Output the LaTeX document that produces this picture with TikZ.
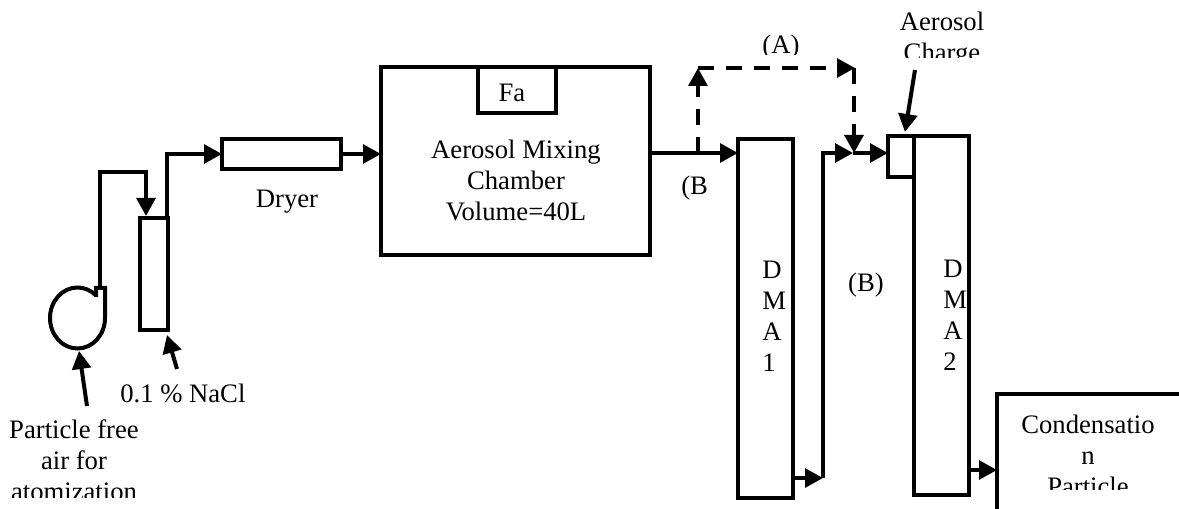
\documentclass[tikz,border=0pt]{standalone}
\usepackage{fontspec}
\setmainfont{Liberation Serif}
\usetikzlibrary{arrows.meta}
\tikzset{
  ln/.style={line width=3pt,line join=miter},
  flow/.style={ln,-{Triangle[length=13.5pt,width=14pt]}},
  dflow/.style={flow,dash pattern=on 12pt off 9pt},
  box/.style={ln,draw,fill=white,inner sep=0pt,outer sep=0pt,anchor=north west},
  txt/.style={inner sep=0pt,font=\fontsize{20}{23.25}\selectfont,align=center},
  txtl/.style={inner sep=0pt,font=\fontsize{20}{23.25}\selectfont,align=left,anchor=north west},
}
\newcommand{\cliptext}[6]{\begin{scope}\clip (#1,#2) rectangle (#3,#4);\node[txt,#5] #6;\end{scope}}
\begin{document}
\begin{tikzpicture}[x=0.75pt,y=-0.75pt]
\useasboundingbox (0,0) rectangle (1179,509);
% boxes
\node[box,minimum width=21pt,minimum height=84pt] (wash) at (140,218) {};
\node[box,minimum width=89.25pt,minimum height=22.5pt] (dryer) at (222,139) {};
\node[box,minimum width=201.75pt,minimum height=141pt] (mix) at (381,67) {};
\node[box,minimum width=58.5pt,minimum height=34.5pt] (fa) at (478,67) {};
\node[box,minimum width=41.25pt,minimum height=269.25pt] (dma1) at (738,139) {};
\node[box,minimum width=41.25pt,minimum height=269.25pt] (dma2) at (914,136) {};
\node[box,minimum width=19.5pt,minimum height=30.75pt] (chg) at (888,136) {};
% pump
\coordinate (pumpA) at (105,288);
\coordinate (pumpB) at (96,288);
\coordinate (pumpC) at (96,297);
\draw[ln] (pumpC) -- (pumpB) -- (pumpA) -- (105,318) arc[start angle=0,end angle=312,x radius=27.5,y radius=30.5];
\coordinate (pumpOut) at (100,288);
\coordinate (pumpIn) at (79,351);
% connectors
\coordinate (airTail) at (87,406);
\coordinate (naclTail) at (177,369);
\coordinate (naclHead) at (167,335);
\coordinate (j1) at (853,153);
\coordinate (topL) at (698,68);
\coordinate (topR) at (855,68);
\coordinate (tapA) at (698,153);
\coordinate (tapB) at (854,68);
\coordinate (chgTail) at (915,70);
\coordinate (chgHead) at (905,132);
\coordinate (d1out) at (793,478);
\coordinate (d1end) at (823,478);
\coordinate (d2out) at (969,470);
\coordinate (cpIn) at (997,470);
\coordinate (mixOut) at (650,153);
\coordinate (d1in) at (738,153);
\draw[flow] (airTail) -- (pumpIn);
\draw[flow] (naclTail) -- (naclHead);
\draw[flow] (pumpOut) |- (146,172) -- (146,216);
\draw[flow] (167,218) |- (dryer.west);
\draw[flow] (dryer.east) -- (mix.west |- dryer.east);
\draw[flow] (mixOut) -- (d1in);
\draw[flow] (d1out) -- (d1end);
\draw[flow] (d1end) |- (j1);
\draw[flow] (j1) -- (chg.west |- j1);
\draw[flow] (d2out) -- (cpIn);
\draw[dflow] (tapA) -- (topL);
\draw[dflow] (topL) -- (topR);
\draw[dflow] (tapB) -- (j1 -| tapB);
\draw[flow] (chgTail) -- (chgHead);
% condensation box
\coordinate (cpA) at (997,509);
\coordinate (cpB) at (997,394);
\coordinate (cpC) at (1179,394);
\draw[ln] (cpA) -- (cpB) -- (cpC);
% texts
\node[txt,anchor=base] (tdry) at (287,208) {Dryer};
\node[txt,anchor=base] (tfa) at (512,102) {Fa};
\node[txt,anchor=north] (tmix) at (516,140) {Aerosol Mixing\\Chamber\\Volume=40L};
\node[txt,anchor=base west] (tnacl) at (120,403) {0.1 \% NaCl};
\node[txt,anchor=base west] (tb1) at (681,195) {(B};
\node[txt,anchor=base] (tb2) at (866,292) {(B)};
\node[txtl] (tdma1) at (762,261) {D\\M\\A\\1};
\node[txtl] (tdma2) at (943,260) {D\\M\\A\\2};
\cliptext{0}{415}{160}{498}{anchor=north}{(tair) at (74,419) {Particle free\\air for\\atomization}}
\cliptext{730}{30}{830}{55}{anchor=base}{(ta) at (781,54) {(A)}}
\cliptext{880}{0}{1020}{58}{anchor=north}{(tch) at (942,12) {Aerosol\\Charge}}
\cliptext{1002}{400}{1179}{490}{anchor=north}{(tcp) at (1088,415) {Condensatio\\n\\Particle}}
\end{tikzpicture}
\end{document}
